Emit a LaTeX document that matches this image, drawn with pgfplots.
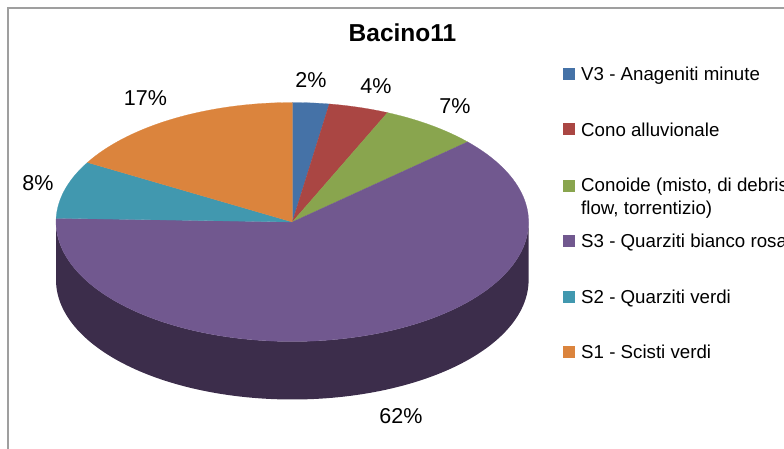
\documentclass[border=0pt]{standalone}
\usepackage{pgfplots}
\pgfplotsset{compat=1.18}
\usepgfplotslibrary{fillbetween}
\usepackage{fontspec}
\setmainfont{Liberation Sans}
\definecolor{cB}{RGB}{69,114,167}
\definecolor{cR}{RGB}{170,70,67}
\definecolor{cG}{RGB}{137,165,78}
\definecolor{cP}{RGB}{113,88,143}
\definecolor{cT}{RGB}{65,152,175}
\definecolor{cO}{RGB}{219,132,61}
\definecolor{cS}{RGB}{60,45,75}
% slice values (percent), clockwise from the top
\def\vA{2.5}  % V3 - Anageniti minute
\def\vB{4.1}  % Cono alluvionale
\def\vC{6.7}  % Conoide
\def\vD{62.2} % S3 - Quarziti bianco rosa
\def\vE{7.8}  % S2 - Quarziti verdi
\def\vF{16.7} % S1 - Scisti verdi
\pgfmathsetmacro\aO{90}
\pgfmathsetmacro\aA{\aO-3.6*\vA}
\pgfmathsetmacro\aB{\aA-3.6*\vB}
\pgfmathsetmacro\aC{\aB-3.6*\vC}
\pgfmathsetmacro\aD{\aC-3.6*\vD}
\pgfmathsetmacro\aE{\aD-3.6*\vE}
\pgfmathsetmacro\aF{\aE-3.6*\vF}
\def\cx{292.3}\def\cy{226}\def\rx{236.3}\def\ry{119.5}\def\dd{58}
\newcommand\lab{\fontsize{21.5}{24}\selectfont}
\newcommand\leg{\fontsize{18.7}{23}\selectfont}
\begin{document}
\begin{tikzpicture}
\begin{axis}[at={(0,0)}, anchor=south west, width=784pt, height=448pt,
  scale only axis, xmin=0, xmax=784, ymin=0, ymax=448, hide axis, clip=false]
\path (axis cs:0,0) rectangle (axis cs:784,448);
% side of the cake
\addplot[name path=topA, draw=none, domain=180:360, samples=120, variable=\t]
  ({\cx+\rx*cos(\t)},{\cy+\ry*sin(\t)});
\addplot[name path=botA, draw=none, domain=180:360, samples=120, variable=\t]
  ({\cx+\rx*cos(\t)},{\cy-\dd+\ry*sin(\t)});
\addplot[fill=cS, draw=none] fill between[of=topA and botA];
% top face slices
\addplot[fill=cB, draw=cB, line width=0.2pt, domain=\aA:\aO, samples=30, variable=\t]
  ({\cx+\rx*cos(\t)},{\cy+\ry*sin(\t)}) -- (axis cs:\cx,\cy) -- cycle;
\addplot[fill=cR, draw=cR, line width=0.2pt, domain=\aB:\aA, samples=30, variable=\t]
  ({\cx+\rx*cos(\t)},{\cy+\ry*sin(\t)}) -- (axis cs:\cx,\cy) -- cycle;
\addplot[fill=cG, draw=cG, line width=0.2pt, domain=\aC:\aB, samples=30, variable=\t]
  ({\cx+\rx*cos(\t)},{\cy+\ry*sin(\t)}) -- (axis cs:\cx,\cy) -- cycle;
\addplot[fill=cP, draw=cP, line width=0.2pt, domain=\aD:\aC, samples=150, variable=\t]
  ({\cx+\rx*cos(\t)},{\cy+\ry*sin(\t)}) -- (axis cs:\cx,\cy) -- cycle;
\addplot[fill=cT, draw=cT, line width=0.2pt, domain=\aE:\aD, samples=30, variable=\t]
  ({\cx+\rx*cos(\t)},{\cy+\ry*sin(\t)}) -- (axis cs:\cx,\cy) -- cycle;
\addplot[fill=cO, draw=cO, line width=0.2pt, domain=\aF:\aE, samples=50, variable=\t]
  ({\cx+\rx*cos(\t)},{\cy+\ry*sin(\t)}) -- (axis cs:\cx,\cy) -- cycle;
% data labels
\node[anchor=base, font=\lab] at (axis cs:311,360) {2\%};
\node[anchor=base, font=\lab] at (axis cs:376,354.7) {4\%};
\node[anchor=base, font=\lab] at (axis cs:455,334.7) {7\%};
\node[anchor=base, font=\lab] at (axis cs:401,24.7) {62\%};
\node[anchor=base, font=\lab] at (axis cs:38,258) {8\%};
\node[anchor=base, font=\lab] at (axis cs:145.5,342) {17\%};
% title
\node[anchor=base, font=\fontsize{24.5}{28}\selectfont\bfseries] at (axis cs:402.5,406.3) {Bacino11};
% legend
\node[fill=cB, inner sep=0pt, minimum size=12pt] at (axis cs:569,374) {};
\node[fill=cR, inner sep=0pt, minimum size=12pt] at (axis cs:569,319) {};
\node[fill=cG, inner sep=0pt, minimum size=12pt] at (axis cs:569,262.5) {};
\node[fill=cP, inner sep=0pt, minimum size=12pt] at (axis cs:569,207.5) {};
\node[fill=cT, inner sep=0pt, minimum size=12pt] at (axis cs:569,151) {};
\node[fill=cO, inner sep=0pt, minimum size=12pt] at (axis cs:569,96) {};
\node[overlay, anchor=base west, inner sep=0pt, font=\leg] at (axis cs:581,367) {V3 - Anageniti minute};
\node[overlay, anchor=base west, inner sep=0pt, font=\leg] at (axis cs:581,312) {Cono alluvionale};
\node[overlay, anchor=base west, inner sep=0pt, font=\leg] at (axis cs:581,256.3) {Conoide (misto, di debris};
\node[overlay, anchor=base west, inner sep=0pt, font=\leg] at (axis cs:581,233.3) {flow, torrentizio)};
\node[overlay, anchor=base west, inner sep=0pt, font=\leg] at (axis cs:581,200.7) {S3 - Quarziti bianco rosa};
\node[overlay, anchor=base west, inner sep=0pt, font=\leg] at (axis cs:581,144.5) {S2 - Quarziti verdi};
\node[overlay, anchor=base west, inner sep=0pt, font=\leg] at (axis cs:581,89.5) {S1 - Scisti verdi};
% chart border
\draw[overlay, gray!75, line width=1.3pt] (axis cs:8,-20) -- (axis cs:8,440) -- (axis cs:820,440);
\end{axis}
\end{tikzpicture}
\end{document}
